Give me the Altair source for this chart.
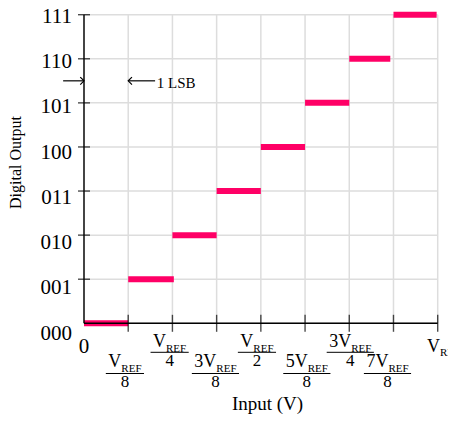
import altair as alt
import pandas as pd

# ---------------- data ----------------
codes = ["000", "001", "010", "011", "100", "101", "110", "111"]
levels = [0, 1, 2, 3, 4, 5, 6, 7]
step_start = [0.0, 0.125, 0.25, 0.375, 0.5, 0.625, 0.75, 0.875]
step_end = [0.125, 0.254, 0.375, 0.5, 0.625, 0.75, 0.866, 0.997]
tick_values = [0.125, 0.25, 0.375, 0.5, 0.625, 0.75, 0.875, 1.0]
tick_coef = ["", "", "3", "", "5", "3", "7", ""]
tick_denom = ["8", "4", "8", "2", "8", "4", "8", ""]
x_domain = [0, 1]
y_domain = [0, 7]
x_title = "Input (V)"
y_title = "Digital Output"
lsb_level = 5.5
lsb_text = "1 LSB"
lsb_left_arrow = [-0.059, 0.0]     # arrow pointing at the axis
lsb_right_arrow = [0.125, 0.201]   # arrow pointing at the first step edge
lsb_text_x = 0.206

# ---------------- layout ----------------
FONT = "Liberation Serif"
PW, PH = 353.7, 308.6
PAD_L, PAD_T = 76, 6.7
CANVAS_W, CANVAS_H = 440, 406
MAIN_FS, SUB_FS, DEN_FS = 18, 11, 17
GRID = "#dddddd"
label_shift = [-3.3, -2.8, -1.2, -3.9, 1.8, 1.0, -6.0, 5.8]  # px, label centre vs tick
row_of = [1, 0, 1, 0, 1, 0, 1, 0]
row_y = {
    0: dict(main=332.0, sub=337.0, bar=337.6, den=351.0),
    1: dict(main=352.0, sub=357.5, bar=358.8, den=372.5),
}
lone_y = dict(main=337.0, sub=341.0)

adv = {"V": 0.722, "R": 0.667, "E": 0.611, "F": 0.556, "3": 0.5, "5": 0.5, "7": 0.5}


def tw(s, fs):
    return sum(adv[c] for c in s) * fs


parts = []
for t, coef, den, sh, r in zip(tick_values, tick_coef, tick_denom, label_shift, row_of):
    main = coef + "V"
    wm = tw(main, MAIN_FS)
    ws = tw("REF", SUB_FS)
    wt = wm + ws
    cpx = t * PW + sh
    split = cpx - wt / 2 + wm
    ys = row_y[r] if den else lone_y
    parts.append(dict(kind="main", x=split / PW, x2=0.0, ypx=ys["main"], text=main))
    parts.append(dict(kind="sub", x=split / PW, x2=0.0, ypx=ys["sub"], text="REF"))
    if den:
        half = wt / 2 + 2.5
        parts.append(dict(kind="bar", x=(cpx - half) / PW, x2=(cpx + half) / PW, ypx=ys["bar"], text=""))
        parts.append(dict(kind="den", x=cpx / PW, x2=0.0, ypx=ys["den"], text=den))
parts.append(dict(kind="zero", x=0.0, x2=0.0, ypx=338.0, text="0"))
parts_df = pd.DataFrame(parts)

steps_df = pd.DataFrame({"start": step_start, "end": step_end, "level": levels, "code": codes})
ylab_df = pd.DataFrame({"code": codes, "level": levels})
ylab_df["ypx"] = [318.8 - 45.25 * lv for lv in levels]
xt_df = pd.DataFrame({"x": tick_values})
yt_df = pd.DataFrame({"level": levels[1:]})
vgrid_df = pd.DataFrame({"x": [x_domain[0]] + tick_values, "y0": y_domain[0], "y1": y_domain[1]})
hgrid_df = pd.DataFrame({"level": levels, "x0": x_domain[0], "x1": x_domain[1]})
axis_df = pd.DataFrame({"x0": [x_domain[0]], "x1": [x_domain[1]], "y0": [y_domain[0]], "y1": [y_domain[1]]})
arrow_df = pd.DataFrame({"x": [lsb_left_arrow[0], lsb_right_arrow[0]],
                         "x2": [lsb_left_arrow[1], lsb_right_arrow[1]],
                         "y": [lsb_level, lsb_level]})

xs = alt.Scale(domain=x_domain, nice=False, zero=False)
ys_ = alt.Scale(domain=y_domain, nice=False, zero=False)


def X(f):
    return alt.X(f, scale=xs, axis=None)


def Y(f):
    return alt.Y(f, scale=ys_, axis=None)


vgrid = alt.Chart(vgrid_df).mark_rule(color=GRID, strokeWidth=1.5).encode(
    x=X("x:Q"), y=Y("y0:Q"), y2="y1:Q")
hgrid = alt.Chart(hgrid_df).mark_rule(color=GRID, strokeWidth=1.5).encode(
    x=X("x0:Q"), x2="x1:Q", y=Y("level:Q"))

steps = alt.Chart(steps_df).mark_rule(color="#ff0066", strokeWidth=6).encode(
    x=X("start:Q"), x2="end:Q", y=Y("level:Q"))

axis_x_line = alt.Chart(axis_df).mark_rule(color="black", strokeWidth=1.4).encode(
    x=X("x0:Q"), x2="x1:Q", y=Y("y0:Q"))
axis_y_line = alt.Chart(axis_df).mark_rule(color="black", strokeWidth=1.4).encode(
    x=X("x0:Q"), y=Y("y0:Q"), y2="y1:Q")

x_ticks = alt.Chart(xt_df).mark_tick(color="black", orient="vertical", size=17, thickness=1.4).encode(
    x=X("x:Q"), y=alt.Y(datum=y_domain[0], scale=ys_, axis=None))
y_ticks = alt.Chart(yt_df).mark_tick(color="black", orient="horizontal", size=12, thickness=1.4).encode(
    x=alt.X(datum=x_domain[0], scale=xs, axis=None), y=Y("level:Q"))

y_labels = alt.Chart(ylab_df).mark_text(font=FONT, fontSize=21, align="right", baseline="middle",
                                         color="black").encode(
    x=alt.value(-12), y=alt.Y("ypx:Q", scale=None), text="code:N")


def part_layer(kind, **mk):
    return alt.Chart(parts_df).transform_filter(alt.datum.kind == kind).mark_text(
        font=FONT, color="black", baseline="alphabetic", **mk).encode(
        x=X("x:Q"), y=alt.Y("ypx:Q", scale=None), text="text:N")


lab_main = part_layer("main", fontSize=MAIN_FS, align="right")
lab_sub = part_layer("sub", fontSize=SUB_FS, align="left")
lab_den = part_layer("den", fontSize=DEN_FS, align="center")
lab_zero = part_layer("zero", fontSize=21, align="center")
lab_bar = alt.Chart(parts_df).transform_filter(alt.datum.kind == "bar").mark_rule(
    color="black", strokeWidth=1).encode(
    x=X("x:Q"), x2="x2:Q", y=alt.Y("ypx:Q", scale=None))

titles_x = alt.Chart(pd.DataFrame({"t": [x_title]})).mark_text(
    font=FONT, fontSize=19, align="center", baseline="alphabetic", color="black").encode(
    x=alt.value(183.5), y=alt.value(395.3), text="t:N")
titles_y = alt.Chart(pd.DataFrame({"t": [y_title]})).mark_text(
    font=FONT, fontSize=16, align="center", baseline="alphabetic", angle=270, color="black").encode(
    x=alt.value(-63), y=alt.value(147.8), text="t:N")

arrows = alt.Chart(arrow_df).mark_rule(color="black", strokeWidth=1.2).encode(
    x=X("x:Q"), x2="x2:Q", y=Y("y:Q"))
head_r = alt.Chart(arrow_df.iloc[[0]]).mark_point(
    shape="M-1,-1L0,0L-1,1", size=56, filled=False, strokeWidth=1.2, color="black", opacity=1).encode(
    x=X("x2:Q"), y=Y("y:Q"))
head_l = alt.Chart(arrow_df.iloc[[1]]).mark_point(
    shape="M1,-1L0,0L1,1", size=56, filled=False, strokeWidth=1.2, color="black", opacity=1).encode(
    x=X("x:Q"), y=Y("y:Q"))
lsb = alt.Chart(pd.DataFrame({"x": [lsb_text_x], "y": [lsb_level], "t": [lsb_text]})).mark_text(
    font=FONT, fontSize=15, align="left", baseline="alphabetic", dy=7, color="black").encode(
    x=X("x:Q"), y=Y("y:Q"), text="t:N")

chart = alt.layer(
    vgrid, hgrid, steps, axis_x_line, axis_y_line, x_ticks, y_ticks, y_labels,
    lab_main, lab_sub, lab_den, lab_zero, lab_bar, titles_x, titles_y,
    arrows, head_r, head_l, lsb,
).properties(
    width=PW, height=PH,
    autosize=alt.AutoSizeParams(type="none"),
    padding={"left": PAD_L, "top": PAD_T, "right": CANVAS_W - PAD_L - PW, "bottom": CANVAS_H - PAD_T - PH},
).configure_view(stroke=None)

chart.save("out.html", embed_options={"renderer": "svg", "actions": False})
